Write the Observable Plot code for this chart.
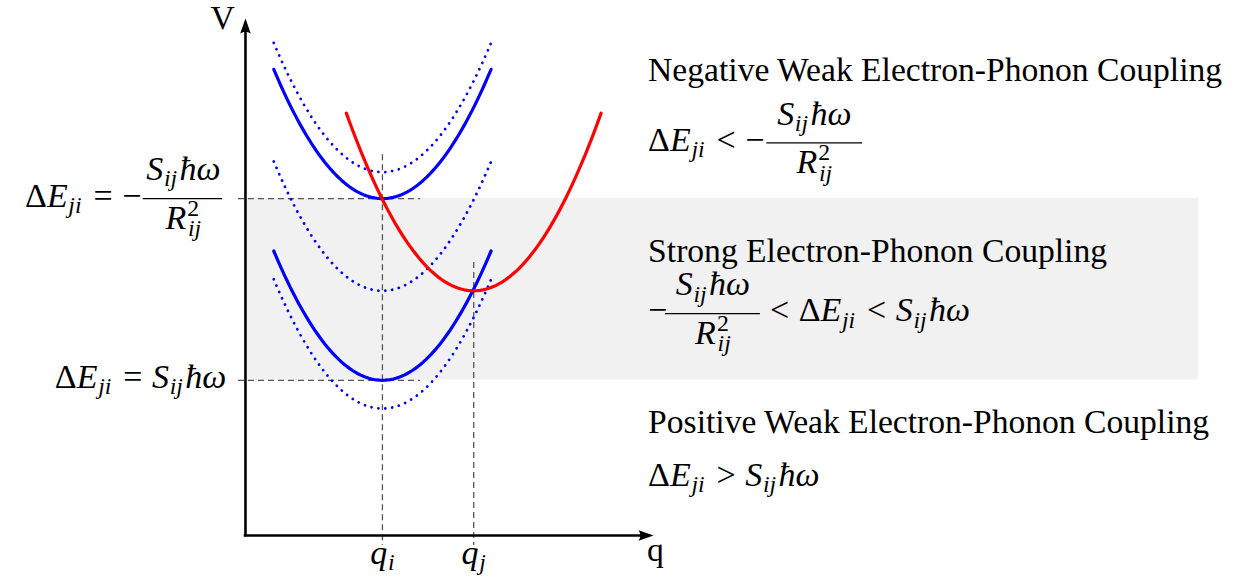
<!DOCTYPE html>
<html>
<head>
<meta charset="utf-8">
<script src="https://cdn.jsdelivr.net/npm/d3@7"></script>
<script src="https://cdn.jsdelivr.net/npm/@observablehq/plot@0.6"></script>
<style>
  html, body { margin: 0; padding: 0; background: #fff; }
  #chart { width: 1238px; height: 583px; overflow: hidden; }
</style>
</head>
<body>
<div id="chart"></div>
<script>
// ---------------- data (q = nuclear coordinate, V = energy; arbitrary units) ----------------
const wellIds        = ["i_upper", "i_lower", "j", "i_upper_shift", "i_mid_shift", "i_lower_shift"];
const wellKinds      = ["state_i", "state_i", "state_j", "shifted", "shifted", "shifted"];
const wellCenters    = [1.5, 1.5, 2.5, 1.5, 1.5, 1.5];
const wellMinima     = [3.69, 1.70, 2.68, 3.98, 2.68, 1.39];
const wellHalfSpan   = [1.19, 1.19, 1.395, 1.19, 1.19, 1.19];
const wellCurvature  = [1.0, 1.0, 1.0, 1.0, 1.0, 1.0];

const coordTicks     = [1.5, 2.5];            // q_i, q_j
const coordTickNames = ["qi", "qj"];
const gapLevels      = [3.69, 1.70];          // ΔE_ji = −S ħω / R², ΔE_ji = S ħω
const regionTitles   = ["Negative Weak Electron-Phonon Coupling",
                        "Strong Electron-Phonon Coupling",
                        "Positive Weak Electron-Phonon Coupling"];

// ---------------- layout (data units) ----------------
const frame = {qMin: -2.683, qMax: 10.876, vMin: -0.526, vMax: 5.860};
const axisEnd = {q: 4.47, V: 5.663};
const bandSpan = {q1: 0.02, q2: 10.44};
const levelSpan = {q1: -0.077, q2: 1.917};
const tickLineTop = [4.17, 2.99];
const tickLineBottom = -0.11;
const textLeft = 4.41;
const FS = 33.6;   // prose
const MS = 34;     // math
const REL = 0.28;  // space around relations (em)

// math pieces: [text, kind]  kind: n upright, i italic, r relation, sub, sup, subsup (sub stacked under sup)
const dE  = [["Δ","n"],["E","i"],["ji","sub"]];
const Shw = [["S","i"],["ij","sub"],["ħω","i"]];
const R2  = [["R","i"],["2","sup"],["ij","subsup"]];
const rel = s => [[s, "r"]];

const mathDefs = [
  [...dE, ...rel("="), ["−","n"]],
  [...dE, ...rel("="), ...Shw],
  Shw, R2,
  [...dE, ...rel("<"), ["−","n"]],
  [["−","n"]],
  [...rel("<"), ...dE, ...rel("<"), ...Shw],
  [...dE, ...rel(">"), ...Shw],
  [["q","i"],["i","sub"]],
  [["q","i"],["j","sub"]]
];
const plain = pieces => pieces.map(p => p[0]).join("");
const mathMap = new Map(mathDefs.map(p => [plain(p), p]));

// labels
const labelsEnd = [
  {t: plain(mathDefs[0]), q: -1.14, V: gapLevels[0] - 0.088},
  {t: plain(mathDefs[1]), q: -0.21, V: gapLevels[1] - 0.088}
];
const labelsStart = [
  {t: regionTitles[0], q: textLeft, V: 4.98},
  {t: plain(mathDefs[4]), q: textLeft, V: 4.215},
  {t: regionTitles[1], q: textLeft, V: 3.00},
  {t: plain(mathDefs[5]), q: textLeft, V: 2.345},
  {t: plain(mathDefs[6]), q: 5.64, V: 2.345},
  {t: regionTitles[2], q: textLeft, V: 1.12},
  {t: plain(mathDefs[7]), q: textLeft, V: 0.54}
];
const fractions = [
  {c: -0.68, x1: -1.12, x2: -0.25, bar: gapLevels[0]},
  {c: 6.23, x1: 5.71, x2: 6.76, bar: 4.30},
  {c: 5.12, x1: 4.60, x2: 5.64, bar: 2.43}
];
const labelsMid = [
  ...fractions.flatMap(f => [
    {t: plain(Shw), q: f.c, V: f.bar + 0.20},
    {t: plain(R2), q: f.c, V: f.bar - 0.33}
  ]),
  {t: "V", q: -0.25, V: 5.55},
  {t: "q", q: 4.49, V: -0.28},
  ...coordTicks.map((q, i) => ({t: plain(mathDefs[8 + i]), q, V: -0.31}))
];

// ---------------- derived curve samples ----------------
const curvePts = wellIds.flatMap((id, k) =>
  d3.range(0, 81).map(n => {
    const q = wellCenters[k] - wellHalfSpan[k] + 2 * wellHalfSpan[k] * n / 80;
    return {id, kind: wellKinds[k], q, V: wellMinima[k] + wellCurvature[k] * (q - wellCenters[k]) ** 2};
  })
);

// arrowhead symbols (latex-like)
const arrowUp = {draw(ctx) { ctx.moveTo(0, 0); ctx.lineTo(5.3, 15); ctx.quadraticCurveTo(0, 11.5, -5.3, 15); ctx.closePath(); }};
const arrowRight = {draw(ctx) { ctx.moveTo(0, 0); ctx.lineTo(-15, 5.3); ctx.quadraticCurveTo(-11.5, 0, -15, -5.3); ctx.closePath(); }};

const dashStyle = {stroke: "#555", strokeWidth: 1.3, strokeDasharray: "6,4"};

const chart = Plot.plot({
  width: 1238,
  height: 583,
  margin: 0,
  x: {domain: [frame.qMin, frame.qMax], axis: null},
  y: {domain: [frame.vMin, frame.vMax], axis: null},
  style: {fontFamily: "'Liberation Serif', 'DejaVu Serif', serif", background: "#fff", color: "#000"},
  marks: [
    Plot.rect([bandSpan], {x1: "q1", x2: "q2", y1: () => gapLevels[1], y2: () => gapLevels[0], fill: "#f1f1f1"}),
    Plot.ruleY(gapLevels, {y: d => d, x1: levelSpan.q1, x2: levelSpan.q2, ...dashStyle}),
    Plot.ruleX(coordTicks, {x: d => d, y1: (d, i) => tickLineTop[i], y2: tickLineBottom, ...dashStyle}),
    Plot.line(curvePts.filter(d => d.kind === "shifted"), {x: "q", y: "V", z: "id", stroke: "#0000ff", strokeWidth: 2.8, strokeLinecap: "round", strokeDasharray: "0.01,6.9"}),
    Plot.line(curvePts.filter(d => d.kind === "state_i"), {x: "q", y: "V", z: "id", stroke: "#0000ff", strokeWidth: 3.2}),
    Plot.line(curvePts.filter(d => d.kind === "state_j"), {x: "q", y: "V", z: "id", stroke: "#ff0000", strokeWidth: 3.2}),
    Plot.ruleX([0], {y1: -0.014, y2: axisEnd.V - 0.12, stroke: "#000", strokeWidth: 2.6}),
    Plot.ruleY([0], {x1: -0.014, x2: axisEnd.q - 0.12, stroke: "#000", strokeWidth: 2.6}),
    Plot.dot([axisEnd], {x: () => 0, y: "V", symbol: arrowUp, fill: "#000", stroke: null}),
    Plot.dot([axisEnd], {x: "q", y: () => 0, symbol: arrowRight, fill: "#000", stroke: null}),
    Plot.ruleY(fractions, {y: "bar", x1: "x1", x2: "x2", stroke: "#000", strokeWidth: 1.3}),
    Plot.text(labelsEnd, {x: "q", y: "V", text: "t", textAnchor: "end", lineAnchor: "bottom", fontSize: FS, fill: "#000"}),
    Plot.text(labelsStart, {x: "q", y: "V", text: "t", textAnchor: "start", lineAnchor: "bottom", fontSize: FS, fill: "#000"}),
    Plot.text(labelsMid, {x: "q", y: "V", text: "t", textAnchor: "middle", lineAnchor: "bottom", fontSize: FS, fill: "#000"})
  ]
});

// turn math strings into styled tspans (sub/superscripts, italics, relation spacing)
const NS = "http://www.w3.org/2000/svg";
chart.querySelectorAll("text").forEach(el => {
  const pieces = mathMap.get(el.textContent);
  if (!pieces) return;
  el.textContent = "";
  let shift = 0, pending = 0;
  pieces.forEach(([t, k]) => {
    const ts = document.createElementNS(NS, "tspan");
    let target = 0, size = MS, italic = false, dx = pending;
    pending = 0;
    if (k === "i") italic = true;
    else if (k === "r") { dx += REL * MS; pending = REL * MS; }
    else if (k === "sub") { target = 0.18 * MS; size = 0.7 * MS; italic = true; dx += 0.02 * MS; pending = 0.07 * MS; }
    else if (k === "sup") { target = -0.37 * MS; size = 0.7 * MS; dx += 0.03 * MS; }
    else if (k === "subsup") { target = 0.22 * MS; size = 0.7 * MS; italic = true; dx = -0.33 * MS; }
    ts.setAttribute("dy", (target - shift).toFixed(2));
    if (dx) ts.setAttribute("dx", dx.toFixed(2));
    ts.setAttribute("font-size", size.toFixed(2));
    ts.setAttribute("font-style", italic ? "italic" : "normal");
    ts.textContent = t;
    shift = target;
    el.appendChild(ts);
  });
});

document.getElementById("chart").appendChild(chart);
</script>
</body>
</html>
